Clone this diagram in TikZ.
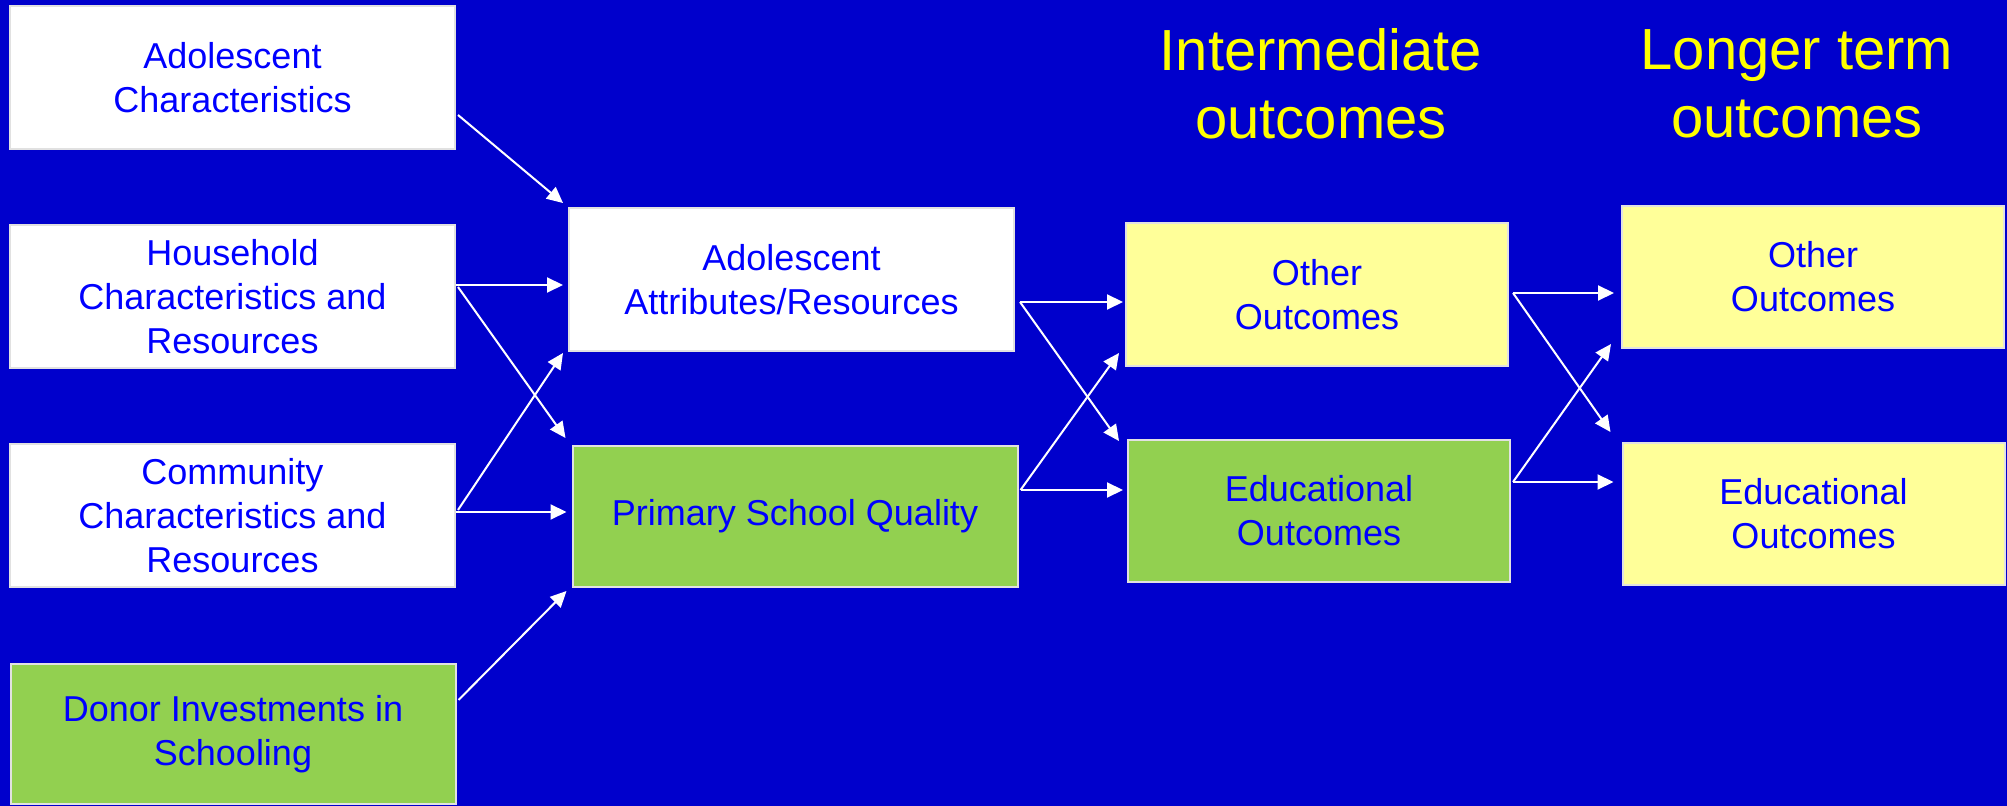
\documentclass[tikz,border=0pt]{standalone}
\usepackage{fontspec}
\setmainfont{Liberation Sans}
\usetikzlibrary{arrows.meta,calc}
\definecolor{bgblue}{RGB}{0,0,204}
\definecolor{txtblue}{RGB}{0,0,255}
\definecolor{boxgreen}{RGB}{146,208,80}
\definecolor{boxyellow}{RGB}{255,255,153}
\definecolor{titleyellow}{RGB}{255,255,0}
\definecolor{edge}{RGB}{225,225,225}
\tikzset{
  box/.style={draw=edge, line width=1pt, inner sep=0pt, align=center,
    text=txtblue, font=\fontsize{18pt}{22pt}\selectfont},
  whitebox/.style={box, fill=white},
  greenbox/.style={box, fill=boxgreen},
  yellowbox/.style={box, fill=boxyellow},
  wide/.style={minimum width=222.5pt, minimum height=71.5pt},
  narrow/.style={minimum width=191pt, minimum height=71.5pt},
  title/.style={text=titleyellow, align=center, inner sep=0pt,
    font=\fontsize{29pt}{34pt}\selectfont},
  arr/.style={draw=white, line width=1pt,
    -{Triangle[length=8pt,width=7.5pt,fill=white]}}
}
\begin{document}
\begin{tikzpicture}[x=0.5pt,y=-0.5pt]
\fill[bgblue] (0,0) rectangle (2007,806);
\useasboundingbox (0,0) rectangle (2007,806);

% left column
\node[whitebox,wide] (adoC) at (232.5,77.5) {Adolescent\\Characteristics};
\node[whitebox,wide] (hh) at (232.5,296.5) {Household\\Characteristics and\\Resources};
\node[whitebox,wide] (comm) at (232.5,515.5) {Community\\Characteristics and\\Resources};
\node[greenbox,wide,minimum height=70pt] (donor) at (233,734) {Donor Investments in\\Schooling};

% middle column
\node[whitebox,wide] (aa) at (791.5,279.5) {Adolescent\\Attributes/Resources};
\node[greenbox,wide,minimum height=70.5pt] (psq) at (795,516.5) {Primary School Quality};

% intermediate outcomes
\node[yellowbox,narrow] (oi) at (1317,294.5) {Other\\Outcomes};
\node[greenbox,narrow,minimum height=71pt] (ei) at (1319,511) {Educational\\Outcomes};

% longer term outcomes
\node[yellowbox,narrow,minimum height=71pt] (ol) at (1813,277) {Other\\Outcomes};
\node[yellowbox,narrow,minimum height=71pt] (el) at (1813.5,514) {Educational\\Outcomes};

% titles
\node[title] (tint) at (1321,84) {Intermediate\\outcomes};
\node[title] (tlong) at (1797,84) {Longer term\\outcomes};

% arrows
\draw[arr] ($(adoC.east)+(2,37.5)$) -- ($(aa.north west)+(-5,-4)$);
\draw[arr] ($(hh.east)+(0,-11.5)$) -- ($(aa.west)+(-5,5.5)$);
\draw[arr] ($(hh.east)+(2,-9.5)$) -- ($(psq.north west)+(-6,-7)$);
\draw[arr] ($(comm.east)+(2,-5.5)$) -- ($(aa.south west)+(-5,1)$);
\draw[arr] ($(comm.east)+(0,-3.5)$) -- ($(psq.west)+(-5,-4.5)$);
\draw[arr] ($(donor.east)+(2,-34)$) -- ($(psq.south west)+(-5,3)$);

\draw[arr] ($(aa.east)+(5,22.5)$) -- ($(oi.west)+(-2,7.5)$);
\draw[arr] ($(aa.east)+(5,22.5)$) -- ($(ei.north west)+(-8,2)$);
\draw[arr] ($(psq.east)+(2,-26.5)$) -- ($(ei.west)+(-4,-21)$);
\draw[arr] ($(psq.east)+(2,-26.5)$) -- ($(oi.south west)+(-6,-14)$);

\draw[arr] ($(oi.east)+(4,-1.5)$) -- ($(ol.west)+(-7,16)$);
\draw[arr] ($(oi.east)+(4,-1.5)$) -- ($(el.north west)+(-11,-10)$);
\draw[arr] ($(ei.east)+(2,-29)$) -- ($(el.west)+(-8,-32)$);
\draw[arr] ($(ei.east)+(2,-29)$) -- ($(ol.south west)+(-10,-5)$);
\end{tikzpicture}
\end{document}
